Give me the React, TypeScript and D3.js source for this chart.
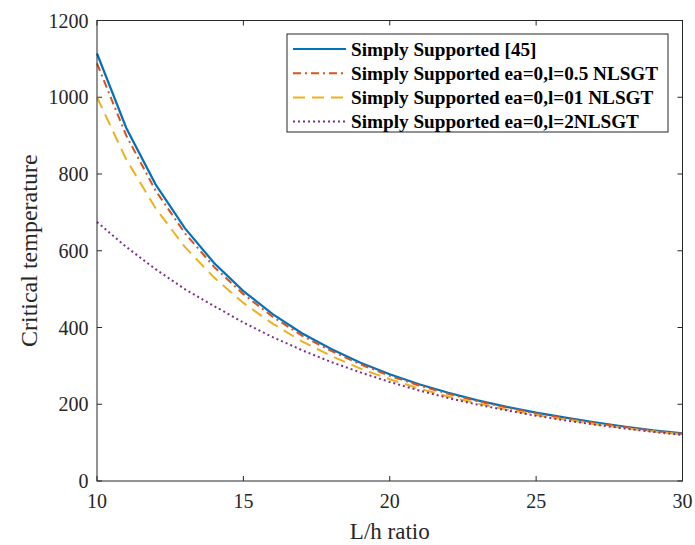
import React, { useRef, useEffect } from 'react';
import * as d3 from 'd3';

// L/h ratios sampled along each curve
const ratios = [10, 11, 12, 13, 14, 15, 16, 17, 18, 19, 20, 21, 22, 23, 24, 25, 26, 27, 28, 29, 30];

// critical temperature
const simplyRef45 = [1114, 920, 773, 659, 568, 495, 435, 385, 344, 308, 278, 252, 230, 210, 193, 178, 165, 153, 142, 132, 124];
const nlsgtL05 = [1088, 900, 757, 646, 558, 487, 428, 379, 339, 304, 274, 249, 227, 208, 191, 176, 163, 151, 141, 131, 123];
const nlsgtL01 = [1000, 838, 711, 610, 530, 464, 410, 364, 326, 293, 265, 241, 220, 202, 186, 172, 160, 148, 138, 129, 121];
const nlsgtL2 = [675, 610, 552, 500, 456, 413, 375, 341, 310, 283, 258, 236, 216, 199, 184, 170, 158, 147, 137, 128, 120];

const xTicks = [10, 15, 20, 25, 30];
const yTicks = [0, 200, 400, 600, 800, 1000, 1200];

const seriesNames = [
  'Simply Supported [45]',
  'Simply Supported ea=0,l=0.5 NLSGT',
  'Simply Supported ea=0,l=01 NLSGT',
  'Simply Supported ea=0,l=2NLSGT',
];
const seriesColors = ['#0072BD', '#D95319', '#EDB120', '#7E2F8E'];
const seriesDash = ['none', '8,4,2,4', '12,7', '2,3'];

const App = () => {
  const svgRef = useRef<SVGSVGElement>(null);

  useEffect(() => {
    if (!svgRef.current) return;
    const svg = d3.select(svgRef.current);
    svg.selectAll('*').remove();

    const width = 695;
    const height = 545;
    const margin = { top: 20.5, right: 12.5, bottom: 64, left: 97 };
    const innerWidth = width - margin.left - margin.right;
    const innerHeight = height - margin.top - margin.bottom;
    const font = 'Liberation Serif';

    const g = svg.append('g').attr('transform', `translate(${margin.left},${margin.top})`);

    const x = d3.scaleLinear().domain([10, 30]).range([0, innerWidth]);
    const y = d3.scaleLinear().domain([0, 1200]).range([innerHeight, 0]);

    // ticks on all four sides, pointing inward
    const tickLen = 5;
    const axisColor = '#262626';
    const ticks = g.append('g').attr('stroke', axisColor).attr('stroke-width', 1);
    xTicks.forEach(t => {
      ticks.append('line').attr('x1', x(t)).attr('x2', x(t)).attr('y1', innerHeight).attr('y2', innerHeight - tickLen);
      ticks.append('line').attr('x1', x(t)).attr('x2', x(t)).attr('y1', 0).attr('y2', tickLen);
    });
    yTicks.forEach(t => {
      ticks.append('line').attr('x1', 0).attr('x2', tickLen).attr('y1', y(t)).attr('y2', y(t));
      ticks.append('line').attr('x1', innerWidth).attr('x2', innerWidth - tickLen).attr('y1', y(t)).attr('y2', y(t));
    });

    g.selectAll('.xlab')
      .data(xTicks)
      .enter()
      .append('text')
      .attr('x', d => x(d))
      .attr('y', innerHeight + 27)
      .attr('text-anchor', 'middle')
      .style('font-family', font)
      .style('font-size', '20px')
      .attr('fill', axisColor)
      .text(d => d);

    g.selectAll('.ylab')
      .data(yTicks)
      .enter()
      .append('text')
      .attr('x', -8.5)
      .attr('y', d => y(d) + 7)
      .attr('text-anchor', 'end')
      .style('font-family', font)
      .style('font-size', '20px')
      .attr('fill', axisColor)
      .text(d => d);

    // curves
    const allSeries = [simplyRef45, nlsgtL05, nlsgtL01, nlsgtL2];
    const line = d3.line<number>()
      .x((_, i) => x(ratios[i]))
      .y(d => y(d));

    allSeries.forEach((vals, i) => {
      g.append('path')
        .datum(vals)
        .attr('fill', 'none')
        .attr('stroke', seriesColors[i])
        .attr('stroke-width', i === 0 ? 2.2 : 2)
        .attr('stroke-dasharray', seriesDash[i])
        .attr('d', line);
    });

    // box
    g.append('rect')
      .attr('width', innerWidth)
      .attr('height', innerHeight)
      .attr('fill', 'none')
      .attr('stroke', axisColor)
      .attr('stroke-width', 1);

    // axis titles
    svg.append('text')
      .attr('x', margin.left + x(20))
      .attr('y', 539)
      .attr('text-anchor', 'middle')
      .style('font-family', font)
      .style('font-size', '23px')
      .attr('fill', axisColor)
      .text('L/h ratio');

    svg.append('text')
      .attr('transform', `translate(37,${margin.top + innerHeight / 2}) rotate(-90)`)
      .attr('text-anchor', 'middle')
      .style('font-family', font)
      .style('font-size', '24px')
      .attr('fill', axisColor)
      .text('Critical temperature');

    // legend
    const legend = svg.append('g').attr('transform', 'translate(287,34)');
    legend.append('rect')
      .attr('width', 381)
      .attr('height', 98)
      .attr('fill', 'white')
      .attr('stroke', axisColor)
      .attr('stroke-width', 1);

    seriesNames.forEach((name, i) => {
      const ly = 15 + i * 24.2;
      legend.append('line')
        .attr('x1', 6)
        .attr('x2', 59)
        .attr('y1', ly)
        .attr('y2', ly)
        .attr('stroke', seriesColors[i])
        .attr('stroke-width', 2)
        .attr('stroke-dasharray', seriesDash[i]);
      legend.append('text')
        .attr('x', 64)
        .attr('y', ly + 6.5)
        .style('font-family', font)
        .style('font-weight', 'bold')
        .style('font-size', '19.2px')
        .attr('fill', '#000')
        .text(name);
    });
  }, []);

  return (
    <svg ref={svgRef} width={695} height={545} style={{ position: 'absolute', left: 0, top: 0, background: 'white' }} />
  );
};

export default App;
